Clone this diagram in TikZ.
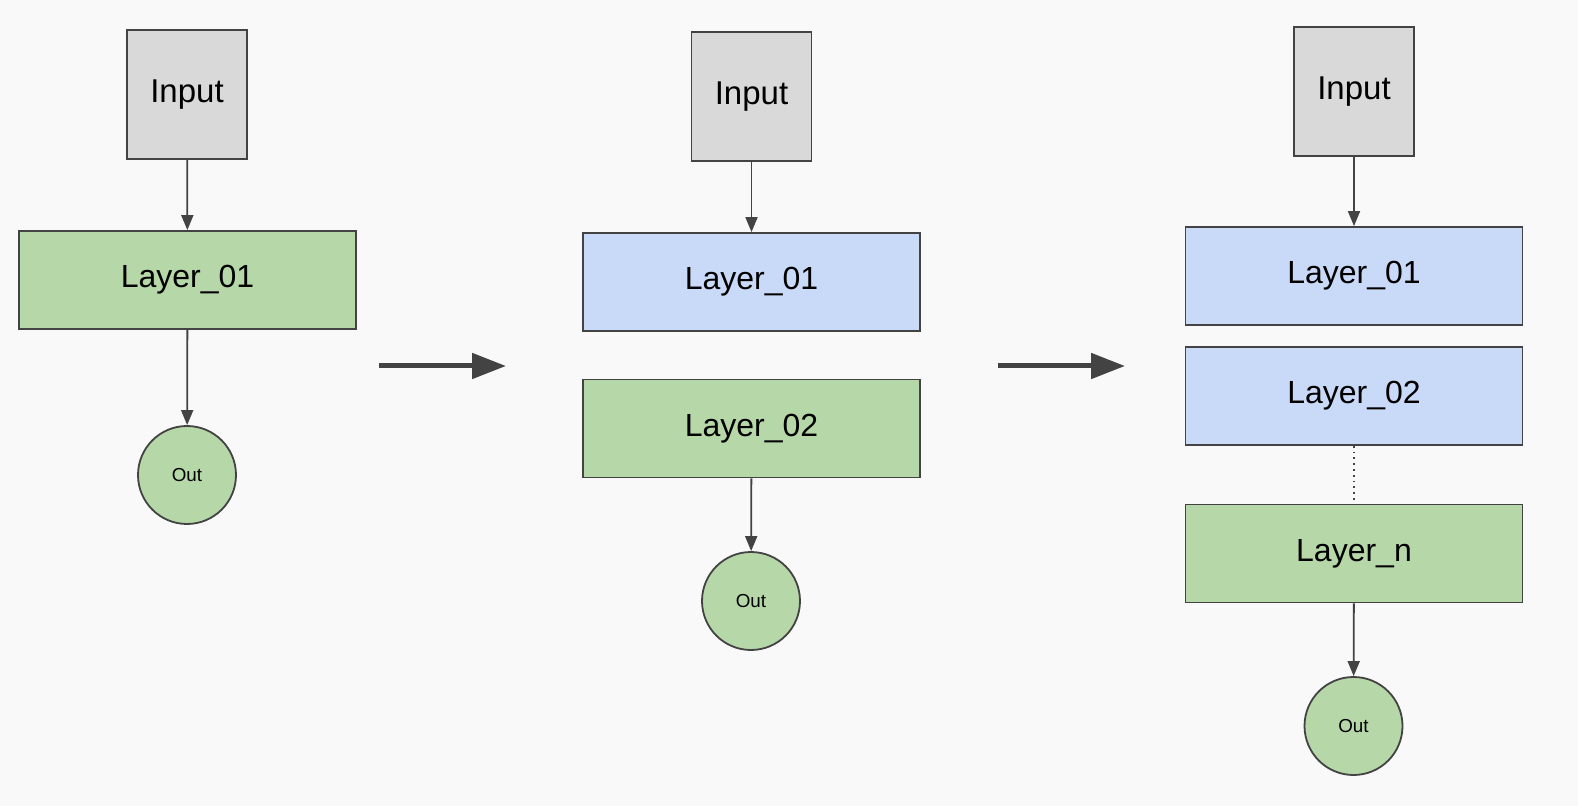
\documentclass[tikz,border=0pt]{standalone}
\usepackage{fontspec}
\setmainfont{Liberation Sans}
\usetikzlibrary{arrows.meta}
\definecolor{inputgray}{HTML}{D9D9D9}
\definecolor{layergreen}{HTML}{B6D7A8}
\definecolor{layerblue}{HTML}{C9DAF8}
\definecolor{edgegray}{HTML}{434343}
\definecolor{paper}{HTML}{F9F9F9}
\begin{document}
\begin{tikzpicture}[x=0.5pt, y=-0.5pt,
    inbox/.style={draw=edgegray, line width=0.9pt, fill=inputgray, minimum width=60pt, minimum height=64.5pt, inner sep=0pt, font=\fontsize{16.5}{19}\selectfont},
    greenlayer/.style={draw=edgegray, line width=0.9pt, fill=layergreen, minimum width=168.5pt, minimum height=49pt, inner sep=0pt, font=\fontsize{16}{19}\selectfont},
    bluelayer/.style={greenlayer, fill=layerblue},
    outnode/.style={circle, draw=edgegray, line width=0.9pt, fill=layergreen, minimum size=49pt, inner sep=0pt, font=\fontsize{9.4}{11}\selectfont},
    link/.style={draw=edgegray, line width=0.9pt, -{Triangle[length=7.5pt, width=6pt]}},
    step arrow/.style={draw=edgegray, line width=2.5pt, -{Triangle[length=17pt, width=12.5pt]}}
]
    \fill[paper] (0,0) rectangle (1578,806);
    \useasboundingbox (0,0) rectangle (1578,806);

    % first model
    \node[inbox] (in1) at (187, 94.5) {Input};
    \node[greenlayer] (l1a) at (187.5, 280) {Layer\_01};
    \node[outnode] (out1) at (187, 475) {Out};
    \draw[link] (in1) -- (l1a);
    \draw[link] (l1a) -- (out1);

    % second model
    \node[inbox] (in2) at (751.5, 96.5) {Input};
    \node[bluelayer] (l2a) at (751.5, 282) {Layer\_01};
    \node[greenlayer] (l2b) at (751.5, 428.5) {Layer\_02};
    \node[outnode] (out2) at (751, 601) {Out};
    \draw[link] (in2) -- (l2a);
    \draw[link] (l2b) -- (out2);

    % third model
    \node[inbox] (in3) at (1354, 91.5) {Input};
    \node[bluelayer] (l3a) at (1354, 276) {Layer\_01};
    \node[bluelayer] (l3b) at (1354, 396) {Layer\_02};
    \node[greenlayer] (l3n) at (1354, 553.5) {Layer\_n};
    \node[outnode] (out3) at (1353.5, 726) {Out};
    \draw[link] (in3) -- (l3a);
    \draw[draw=edgegray, line width=0.9pt, dotted] (l3b) -- (l3n);
    \draw[link] (l3n) -- (out3);

    % growth arrows
    \coordinate (g1s) at (379, 366);
    \coordinate (g1e) at (506, 366);
    \coordinate (g2s) at (998, 366);
    \coordinate (g2e) at (1125, 366);
    \draw[step arrow] (g1s) -- (g1e);
    \draw[step arrow] (g2s) -- (g2e);
\end{tikzpicture}
\end{document}
